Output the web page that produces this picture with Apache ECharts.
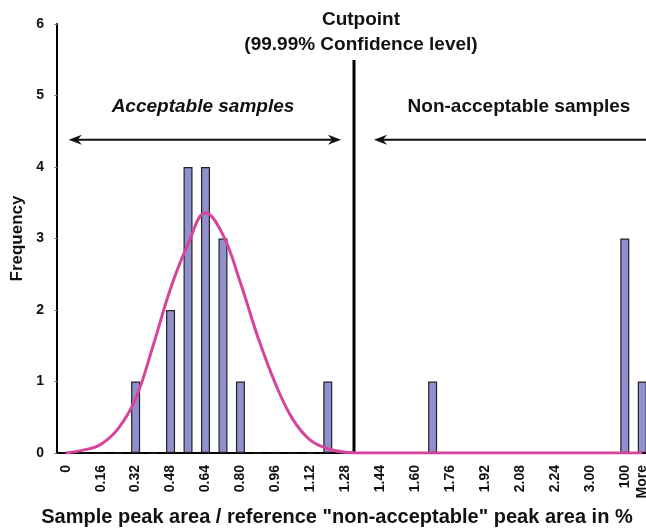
<!DOCTYPE html>
<html>
<head>
<meta charset="utf-8">
<script src="https://cdn.jsdelivr.net/npm/echarts@6/dist/echarts.min.js"></script>
<style>
  html, body { margin: 0; padding: 0; background: #fff; }
  #chart { width: 646px; height: 529px; }
</style>
</head>
<body>
<div id="chart"></div>
<script>
// histogram bins (0.08 wide), only every other one is labelled
const categories = ['0', '0.08', '0.16', '0.24', '0.32', '0.40', '0.48', '0.56', '0.64', '0.72',
  '0.80', '0.88', '0.96', '1.04', '1.12', '1.20', '1.28', '1.36', '1.44', '1.52',
  '1.60', '1.68', '1.76', '1.84', '1.92', '2.00', '2.08', '2.16', '2.24', '2.32',
  '3.00', '3.08', '100', 'More'];
const frequency = [0, 0, 0, 0, 1, 0, 2, 4, 4, 3,
  1, 0, 0, 0, 0, 1, 0, 0, 0, 0,
  0, 1, 0, 0, 0, 0, 0, 0, 0, 0,
  0, 0, 3, 1];
const normalFit = [0, 0.04, 0.12, 0.34, 0.76, 1.5, 2.3, 2.92, 3.36, 3.05,
  2.38, 1.62, 0.97, 0.47, 0.18, 0.06, 0.01, 0, 0, 0,
  0, 0, 0, 0, 0, 0, 0, 0, 0, 0,
  0, 0, 0, 0];
const yTicks = [0, 1, 2, 3, 4, 5, 6];
const cutCategory = '1.28';
const arrowLevel = 4.38;

const FONT = '"Liberation Sans", Arial, sans-serif';
const chart = echarts.init(document.getElementById('chart'));

const option = {
  animation: false,
  grid: { left: 57, right: -5, top: 24, bottom: 76, containLabel: false, outerBoundsMode: 'none' },
  xAxis: {
    type: 'category',
    data: categories,
    axisLine: { lineStyle: { color: '#000', width: 2 } },
    axisTick: { show: false },
    axisLabel: {
      rotate: 90,
      margin: 12,
      color: '#111',
      fontFamily: FONT,
      fontWeight: 'bold',
      fontSize: 14,
      interval: function (index, value) {
        return index % 2 === 0 || value === 'More';
      }
    }
  },
  yAxis: {
    type: 'value',
    min: yTicks[0],
    max: yTicks[yTicks.length - 1],
    interval: 1,
    name: 'Frequency',
    nameLocation: 'middle',
    nameGap: 30,
    nameTextStyle: { color: '#111', fontFamily: FONT, fontWeight: 'bold', fontSize: 17 },
    axisLine: { show: true, lineStyle: { color: '#000', width: 2 } },
    axisTick: { show: true, length: 3, lineStyle: { color: '#888', width: 1 } },
    splitLine: { show: false },
    axisLabel: { margin: 13, color: '#111', fontFamily: FONT, fontWeight: 'bold', fontSize: 14 }
  },
  series: [
    {
      type: 'bar',
      data: frequency,
      barWidth: 9,
      itemStyle: { color: '#9090cf', borderColor: '#222', borderWidth: 1.2 },
      z: 2
    },
    {
      type: 'line',
      data: normalFit,
      smooth: 0.4,
      symbol: 'none',
      lineStyle: { color: '#d8449b', width: 3 },
      z: 3
    }
  ]
};
chart.setOption(option);

// annotations placed through the axes' own scales
const xPx = c => chart.convertToPixel({ xAxisIndex: 0 }, c);
const yPx = v => chart.convertToPixel({ yAxisIndex: 0 }, v);
const band = xPx(categories[1]) - xPx(categories[0]);
const cutX = xPx(cutCategory) + band / 2;
const baseY = yPx(0);
const arrY = yPx(arrowLevel);

const head = (tipX, dir) => ({
  type: 'polygon',
  shape: { points: [[tipX, arrY], [tipX + dir * 13, arrY - 5], [tipX + dir * 9, arrY], [tipX + dir * 13, arrY + 5]] },
  style: { fill: '#111' }
});
const txt = (x, y, text, size, italic) => ({
  type: 'text',
  x: x, y: y,
  style: {
    text: text, fill: '#111', font: (italic ? 'italic ' : '') + 'bold ' + size + 'px ' + FONT,
    align: 'center', verticalAlign: 'middle'
  }
});

const leftTip = xPx(categories[0]) + 3;
const rightTip = cutX - 13;
const naTip = cutX + 20;

chart.setOption({
  graphic: [
    { type: 'line', shape: { x1: cutX, y1: 60, x2: cutX, y2: baseY }, style: { stroke: '#000', lineWidth: 3 } },
    txt(cutX + 7, 20, 'Cutpoint', 19),
    txt(cutX + 7, 45, '(99.99% Confidence level)', 19),
    { type: 'line', shape: { x1: leftTip + 8, y1: arrY, x2: rightTip - 8, y2: arrY }, style: { stroke: '#111', lineWidth: 2 } },
    head(leftTip, 1),
    head(rightTip, -1),
    txt(203, 107, 'Acceptable samples', 19, true),
    { type: 'line', shape: { x1: naTip + 8, y1: arrY, x2: 660, y2: arrY }, style: { stroke: '#111', lineWidth: 2 } },
    head(naTip, 1),
    txt(519, 107, 'Non-acceptable samples', 19),
    txt(337, 517, 'Sample peak area / reference "non-acceptable" peak area in %', 20)
  ]
});
</script>
</body>
</html>
